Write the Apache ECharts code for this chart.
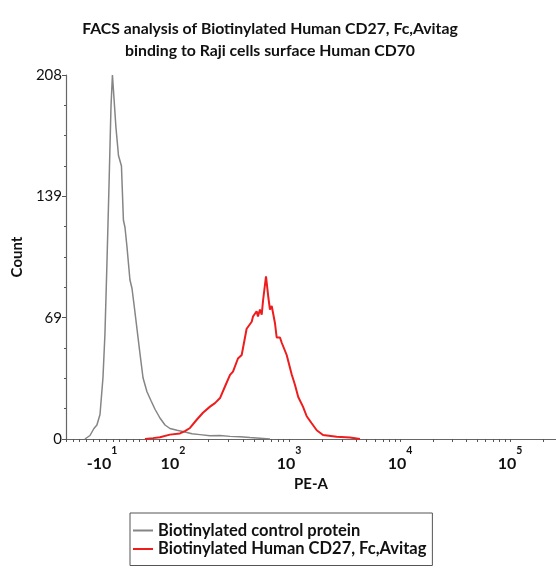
<!DOCTYPE html>
<html>
<head>
<meta charset="utf-8">
<script src="https://cdn.jsdelivr.net/npm/echarts@6/dist/echarts.min.js"></script>
<style>html,body{margin:0;padding:0;background:#fff;}#c{width:556px;height:584px;}</style>
</head>
<body>
<div id="c"></div>
<script>
// x values are positions on the biexponential PE-A display scale (decade units: 10^3 -> ~3)
const controlX = [1.136,1.182,1.218,1.245,1.273,1.300,1.318,1.336,1.355,1.373,1.386,1.400,1.418,1.441,1.468,1.486,1.500,1.518,1.545,1.564,1.582,1.609,1.636,1.664,1.700,1.736,1.773,1.818,1.864,1.909,1.973,2.045,2.109,2.182,2.273,2.364,2.455,2.545,2.636,2.727,2.818];
const controlY = [0,2,6,8,14,35,60,100,145,190,208,195,178,162,156,125,121,110,91,86,77,63,49,35,27,22,17,12,8,6,5,4,3,2.5,1.8,2,1.5,1.3,0.8,0.4,0];
const cd27X = [1.682,1.755,1.818,1.909,2.000,2.045,2.091,2.152,2.209,2.273,2.318,2.364,2.409,2.455,2.482,2.527,2.561,2.591,2.606,2.652,2.664,2.697,2.709,2.727,2.743,2.755,2.782,2.803,2.818,2.834,2.864,2.879,2.909,2.925,2.970,3.015,3.045,3.075,3.118,3.152,3.197,3.243,3.300,3.425,3.545,3.636];
const cd27Y = [0,0.5,1,2.5,3.2,4.5,6.3,11,15,18.5,20.5,23.4,30,36.6,38.5,46,48,58,63,67,70,73,70,74,71,79,93,81,74,76,66,58,58,55,48,37,31,24,18.5,13,9,5,2.3,1.3,0.8,0];
const seriesNames = ['Biotinylated control protein','Biotinylated Human CD27, Fc,Avitag'];
// tick labels: [position, base, exponent]
const xTickPos = [1.291,1.936,2.991,4.0,5.0];
const xTickBase = ['-10','10','10','10','10'];
const xTickExp = ['1','2','3','4','5'];
const yTickLabels = [0,69,139,208];

const X_MIN = 0.964, X_MAX = 5.418;
// minor tick positions: even spacing in the linear region, log spacing in decades
const minorTicks = [];
for (let v = xTickPos[1]; v > X_MIN; v -= 0.0606) minorTicks.push(+v.toFixed(4));
for (let i = 1; i < xTickPos.length; i++) {
  const a = xTickPos[i], step = (i + 1 < xTickPos.length) ? xTickPos[i+1] - a : 1;
  for (let k = 2; k <= 9; k++) { const v = a + Math.log10(k) * step; if (v < X_MAX) minorTicks.push(+v.toFixed(4)); }
}
const allTicks = minorTicks.concat(xTickPos.slice(2));

const chart = echarts.init(document.getElementById('c'));
const font = 'Lato, "Open Sans", sans-serif';
chart.setOption({
  animation: false,
  title: {
    text: 'FACS analysis of Biotinylated Human CD27, Fc,Avitag\nbinding to Raji cells surface Human CD70',
    left: 265, top: 13, textAlign: 'center',
    textStyle: {fontFamily: font, fontSize: 15.8, fontWeight: 'bold', color: '#111', lineHeight: 22}
  },
  legend: {
    orient: 'vertical', left: 130, top: 513,
    data: seriesNames,
    icon: 'rect', itemWidth: 20, itemHeight: 2, itemGap: 1.5, itemTextGap: 3,
    padding: [9, 6, 8, 3],
    borderColor: '#555', borderWidth: 1,
    textStyle: {fontFamily: font, fontSize: 16.5, fontWeight: 'bold', color: '#111', lineHeight: 16.5}
  },
  grid: {left: 66, right: 0, top: 75, bottom: 145},
  xAxis: {
    type: 'value', min: X_MIN, max: X_MAX,
    name: 'PE-A', nameLocation: 'middle', nameGap: 38,
    nameTextStyle: {fontFamily: font, fontSize: 15, fontWeight: 'bold', color: '#111'},
    axisLine: {lineStyle: {color: '#666', width: 1.2}},
    axisTick: {show: true, length: 3, customValues: allTicks, lineStyle: {color: '#555'}},
    splitLine: {show: false},
    axisLabel: {
      customValues: xTickPos, margin: 6,
      formatter: function (v) {
        let i = xTickPos.indexOf(v);
        if (i < 0) { let best = 0; xTickPos.forEach((p, j) => { if (Math.abs(p - v) < Math.abs(xTickPos[best] - v)) best = j; }); i = best; }
        return '{b|' + xTickBase[i] + '}{s|' + xTickExp[i] + '}';
      },
      rich: {
        b: {fontFamily: font, fontSize: 16, fontWeight: 'bold', color: '#111', lineHeight: 27, verticalAlign: 'bottom'},
        s: {fontFamily: font, fontSize: 10.5, fontWeight: 'bold', color: '#111', lineHeight: 27, verticalAlign: 'top'}
      }
    }
  },
  yAxis: {
    type: 'value', min: 0, max: 208, interval: 208 / 3,
    name: 'Count', nameLocation: 'middle', nameGap: 37, nameRotate: 90,
    nameTextStyle: {fontFamily: font, fontSize: 15, fontWeight: 'bold', color: '#111'},
    axisLine: {show: true, lineStyle: {color: '#666', width: 1.2}},
    axisTick: {show: true, length: 4, lineStyle: {color: '#555'}},
    minorTick: {show: true, splitNumber: 4, length: 2, lineStyle: {color: '#555'}},
    splitLine: {show: false},
    axisLabel: {
      margin: 4, fontFamily: font, fontSize: 15, color: '#111',
      formatter: function (v) { const r = Math.round(v); return yTickLabels.indexOf(r) >= 0 ? String(r) : ''; }
    }
  },
  series: [
    {name: seriesNames[0], type: 'line', showSymbol: false, symbol: 'none',
     data: controlX.map((x, i) => [x, controlY[i]]),
     lineStyle: {color: '#858585', width: 1.5}, itemStyle: {color: '#858585'}},
    {name: seriesNames[1], type: 'line', showSymbol: false, symbol: 'none',
     data: cd27X.map((x, i) => [x, cd27Y[i]]),
     lineStyle: {color: '#ee1c1c', width: 2}, itemStyle: {color: '#ee1c1c'}}
  ]
});
</script>
</body>
</html>
